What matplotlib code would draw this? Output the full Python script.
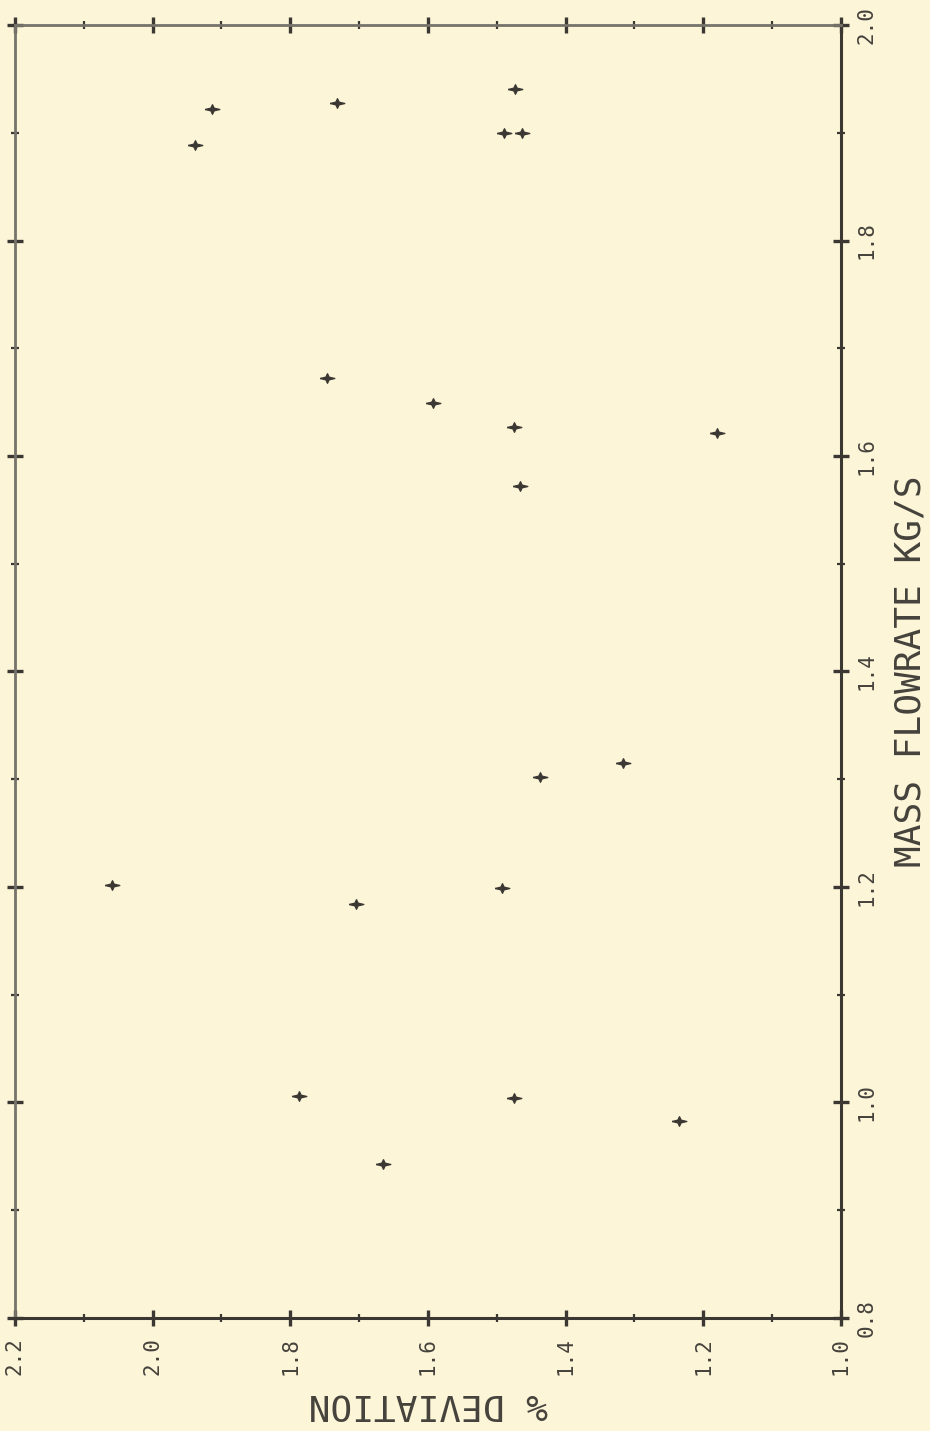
import numpy as np
import matplotlib
matplotlib.use('Agg')
import matplotlib.pyplot as plt
from matplotlib.ticker import MultipleLocator

# (page is turned 90 degrees)
mass_flow = [1.202, 1.889, 1.922, 1.006, 1.928, 1.672, 1.184, 0.943, 1.941, 1.900,
             1.900, 1.649, 1.627, 1.621, 1.572, 1.315, 1.302, 1.199, 1.004, 0.983]
deviation = [2.059, 1.939, 1.914, 1.788, 1.732, 1.747, 1.705, 1.665, 1.473, 1.489,
             1.464, 1.593, 1.475, 1.180, 1.467, 1.316, 1.437, 1.493, 1.475, 1.236]

flow_ticks = [0.8, 1.0, 1.2, 1.4, 1.6, 1.8, 2.0]
dev_ticks = [1.0, 1.2, 1.4, 1.6, 1.8, 2.0, 2.2]

paper = '#fcf5d8'
ink = '#3b3833'
faint = '#75736a'

# four pointed plotter symbol, a bit wider than tall
star = [(-1, 0), (-0.22, 0.18), (0, 0.65), (0.22, 0.18), (1, 0),
        (0.22, -0.18), (0, -0.65), (-0.22, -0.18), (-1, 0)]

fig = plt.figure(figsize=(9.3, 14.31), dpi=100, facecolor=paper)
ax = fig.add_axes([0.0161, 0.0790, 0.8882, 0.9035], facecolor=paper)

# deviation runs right-to-left along the bottom, flowrate up the right side
ax.scatter(deviation, mass_flow, marker=star, s=110, color=ink, linewidths=1.0, zorder=3)

ax.set_xlim(2.2, 1.0)
ax.set_ylim(0.8, 2.0)
ax.set_xticks(dev_ticks)
ax.set_yticks(flow_ticks)
ax.set_xticklabels([f'{v:.1f}' for v in dev_ticks], rotation=90)
ax.set_yticklabels([f'{v:.1f}' for v in flow_ticks], rotation=90, va='center')
ax.xaxis.set_minor_locator(MultipleLocator(0.1))
ax.yaxis.set_minor_locator(MultipleLocator(0.1))

ax.tick_params(which='both', direction='inout', top=True, bottom=True, left=True, right=True,
               labelleft=False, labelright=True, colors=ink)
ax.tick_params(which='major', length=11, width=2.4)
ax.tick_params(which='minor', length=6, width=1.6)
ax.tick_params(axis='x', which='major', pad=8, labelsize=15, labelcolor='#45423c')
ax.tick_params(axis='y', which='major', pad=6, labelsize=15, labelcolor='#45423c')
for lab in ax.get_xticklabels() + ax.get_yticklabels():
    lab.set_family('DejaVu Sans Mono')

for side in ['top', 'left']:
    ax.spines[side].set_color(faint)
    ax.spines[side].set_linewidth(2.0)
for side in ['bottom', 'right']:
    ax.spines[side].set_color(ink)
    ax.spines[side].set_linewidth(2.2)

ax.set_xlabel('% DEVIATION', rotation=180, fontsize=26, family='DejaVu Sans Mono',
              color='#45423c', labelpad=9)
ax.yaxis.set_label_position('right')
ax.set_ylabel('MASS FLOWRATE KG/S', rotation=90, fontsize=26, family='DejaVu Sans Mono',
              color='#45423c', labelpad=12)

fig.savefig('out.png', dpi=100, facecolor=paper)
